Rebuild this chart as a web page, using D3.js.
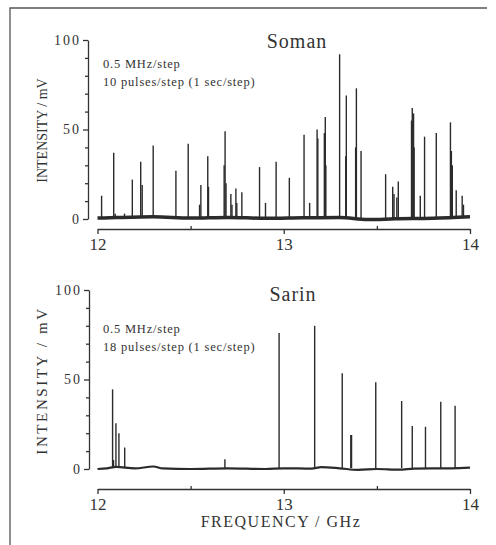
<!DOCTYPE html>
<html>
<head>
<meta charset="utf-8">
<script src="https://cdn.jsdelivr.net/npm/d3@7"></script>
<style>
  body { margin: 0; background: #fff; }
  text { font-family: "Liberation Serif", "Times New Roman", Times, Tinos, "DejaVu Serif", "Noto Serif", serif; fill: #333; }
  .axis path, .axis line { stroke: #333; stroke-width: 1.3; }
</style>
</head>
<body>
<div id="vis"></div>
<script>
// frame
const FRAME_WIDTH = 496;
const FRAME_HEIGHT = 545;

// data: [frequency GHz, intensity mV]
const FREQ_TICKS = [12, 13, 14];
const FREQ_MINOR = [12.5, 13.5];
const INT_TICKS = [0, 50, 100];
const INT_MINOR = [10, 20, 30, 40, 60, 70, 80, 90];

const SOMAN_PEAKS = [
  [12.022, 13], [12.087, 37], [12.095, 3], [12.145, 3], [12.187, 22], [12.232, 32],
  [12.240, 19], [12.299, 41], [12.421, 27], [12.487, 42], [12.548, 8], [12.555, 19],
  [12.592, 35], [12.596, 18], [12.680, 30], [12.685, 49], [12.690, 20], [12.716, 14],
  [12.722, 8], [12.743, 17], [12.748, 9], [12.775, 15], [12.870, 29], [12.902, 9],
  [12.959, 32], [13.030, 23], [13.109, 47], [13.139, 9], [13.179, 50], [13.183, 45],
  [13.218, 48], [13.223, 57], [13.226, 30], [13.300, 92], [13.333, 35], [13.336, 69],
  [13.386, 40], [13.390, 73], [13.415, 38], [13.547, 25], [13.585, 18], [13.592, 14],
  [13.607, 12], [13.615, 21], [13.686, 55], [13.690, 62], [13.697, 59], [13.700, 40],
  [13.733, 13], [13.756, 46], [13.819, 48], [13.895, 54], [13.900, 38], [13.905, 30],
  [13.926, 16], [13.958, 13], [13.965, 8]
];
const SOMAN_BASE = [
  [12.0, 0.5], [12.1, 0.8], [12.3, 1.2], [12.5, 0.5], [12.7, 0.9], [12.9, 0.4],
  [13.1, 0.7], [13.3, 0.9], [13.45, -0.3], [13.6, 0.1], [13.8, 0.4], [14.0, 1.2]
];

const SARIN_PEAKS = [
  [12.081, 44.5], [12.086, 5], [12.099, 25.5], [12.115, 20], [12.146, 12],
  [12.684, 5.4], [12.975, 76], [13.166, 80], [13.314, 53.5], [13.360, 19],
  [13.364, 19], [13.494, 48.4], [13.633, 38], [13.690, 24], [13.761, 23.6],
  [13.843, 37.6], [13.920, 35.4]
];
const SARIN_BASE = [
  [12.0, 0], [12.05, 0.4], [12.1, 1.2], [12.2, 0.3], [12.3, 1.4], [12.35, 0.3],
  [12.5, 0], [12.7, 0.4], [12.9, 0], [13.0, 0.4], [13.15, 0.2], [13.2, 1],
  [13.3, 0.4], [13.4, -0.5], [13.5, 0], [13.62, -0.4], [13.7, 0.2], [13.9, 0.4], [14.0, 0.8]
];

const PANELS = [
  {name: "Soman", peaks: SOMAN_PEAKS, base: SOMAN_BASE, y0: 219, y1: 40, axisX: 88, xAxisY: 229,
   note: ["0.5 MHz/step", "10 pulses/step (1 sec/step)"], noteY: 68, titleY: 48,
   labelSize: 14, labelSpacing: 0, baseWidth: 3.5},
  {name: "Sarin", peaks: SARIN_PEAKS, base: SARIN_BASE, y0: 469, y1: 290, axisX: 89, xAxisY: 489,
   note: ["0.5 MHz/step", "18 pulses/step (1 sec/step)"], noteY: 333, titleY: 301,
   labelSize: 15, labelSpacing: 2.6, baseWidth: 2.2}
];

const FRAME1 = d3.select("#vis")
  .append("svg")
    .attr("width", FRAME_WIDTH)
    .attr("height", FRAME_HEIGHT);

// outer box (only top and left show in the picture)
FRAME1.append("path")
  .attr("d", "M10,545 L10,8 L487,8")
  .attr("fill", "none")
  .attr("stroke", "#555")
  .attr("stroke-width", 1.3);

const X_SCALE = d3.scaleLinear().domain([12, 14]).range([97.5, 470]);

PANELS.forEach((p) => {
  const Y_SCALE = d3.scaleLinear().domain([0, 100]).range([p.y0, p.y1]);
  const g = FRAME1.append("g");

  // baseline trace
  g.append("path")
    .datum(p.base)
    .attr("d", d3.line().x((d) => X_SCALE(d[0])).y((d) => Y_SCALE(d[1])).curve(d3.curveMonotoneX))
    .attr("fill", "none")
    .attr("stroke", "#2b2b2b")
    .attr("stroke-width", p.baseWidth);

  // peaks
  g.selectAll(".peak")
    .data(p.peaks)
    .enter()
    .append("line")
      .attr("class", "peak")
      .attr("x1", (d) => X_SCALE(d[0]))
      .attr("x2", (d) => X_SCALE(d[0]))
      .attr("y1", Y_SCALE(0.5))
      .attr("y2", (d) => Y_SCALE(d[1]))
      .attr("stroke", "#2b2b2b")
      .attr("stroke-width", 1.4);

  // y axis
  g.append("g")
    .attr("class", "axis")
    .attr("transform", "translate(" + p.axisX + ",0)")
    .call(d3.axisLeft(Y_SCALE).tickValues(INT_TICKS).tickSize(5).tickSizeOuter(0).tickPadding(2))
    .call((a) => a.attr("font-family", null))
    .call((a) => a.selectAll("text").attr("font-size", "14px").attr("letter-spacing", "2px").attr("fill", "#333"));
  g.append("g")
    .attr("class", "axis")
    .attr("transform", "translate(" + p.axisX + ",0)")
    .call(d3.axisLeft(Y_SCALE).tickValues(INT_MINOR).tickSize(3).tickSizeOuter(0).tickFormat(""))
    .call((a) => a.select(".domain").remove());

  // x axis
  g.append("g")
    .attr("class", "axis")
    .attr("transform", "translate(0," + p.xAxisY + ")")
    .call(d3.axisBottom(X_SCALE).tickValues(FREQ_TICKS).tickSize(5).tickSizeOuter(0).tickFormat(d3.format("d")).tickPadding(4))
    .call((a) => a.attr("font-family", null))
    .call((a) => a.selectAll("text").attr("font-size", "17px").attr("fill", "#333"));
  g.append("g")
    .attr("class", "axis")
    .attr("transform", "translate(0," + p.xAxisY + ")")
    .call(d3.axisTop(X_SCALE).tickValues(FREQ_MINOR).tickSize(3).tickSizeOuter(0).tickFormat(""))
    .call((a) => a.select(".domain").remove());

  // y label
  g.append("text")
    .attr("transform", "translate(47," + ((p.y0 + p.y1) / 2 + 1) + ") rotate(-90)")
    .attr("text-anchor", "middle")
    .attr("font-size", p.labelSize + "px")
    .attr("letter-spacing", p.labelSpacing + "px")
    .text("INTENSITY / mV");

  // title
  g.append("text")
    .attr("x", p.name === "Soman" ? 297 : 293)
    .attr("y", p.titleY)
    .attr("text-anchor", "middle")
    .attr("font-size", "20px")
    .attr("letter-spacing", "1px")
    .text(p.name);

  // note
  g.selectAll(".note")
    .data(p.note)
    .enter()
    .append("text")
      .attr("x", 103)
      .attr("y", (d, i) => p.noteY + i * 18)
      .attr("font-size", "12.5px")
      .attr("letter-spacing", "0.8px")
      .text((d) => d);
});

FRAME1.append("text")
  .attr("x", 281)
  .attr("y", 527)
  .attr("text-anchor", "middle")
  .attr("font-size", "16px")
  .attr("letter-spacing", "1.5px")
  .text("FREQUENCY / GHz");
</script>
</body>
</html>
